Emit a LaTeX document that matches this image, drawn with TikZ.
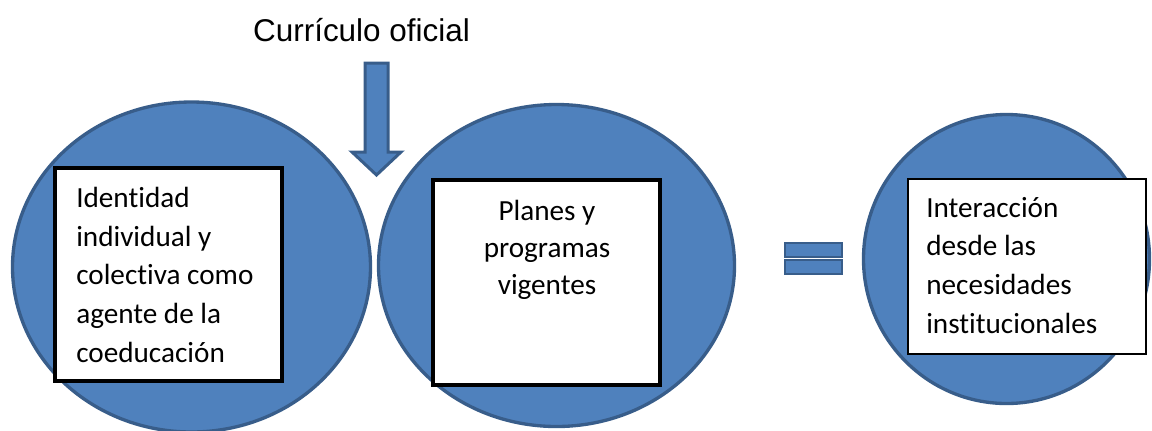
\documentclass[tikz,border=0pt]{standalone}
\usepackage{fontspec}
\setmainfont[Ligatures={NoCommon}]{Carlito}
\newfontfamily\arialfont{Liberation Sans}
\usetikzlibrary{shapes.geometric,fit}
\definecolor{blobfill}{HTML}{4F81BD}
\definecolor{blobline}{HTML}{385D8A}
\begin{document}
\begin{tikzpicture}[x=0.75pt,y=-0.75pt,
  blob/.style={ellipse, draw=blobline, fill=blobfill, line width=2.5pt, inner sep=0pt},
  thickbox/.style={rectangle, draw=black, fill=white, line width=3pt, inner sep=0pt},
  thinbox/.style={rectangle, draw=black, fill=white, line width=1.5pt, inner sep=0pt},
  boxtext/.style={inner sep=0pt, font=\fontsize{21.9}{29}\selectfont},
  blockshape/.style={draw=blobline, fill=blobfill, line width=2.25pt, line join=miter},
  eqbar/.style={draw=blobline, fill=blobfill, line width=1.5pt}]
\useasboundingbox (0,0) rectangle (1152,430);
% circles
\node[blob, minimum width=268.5pt, minimum height=247.5pt] (c1) at (191.5,267) {};
\node[blob, minimum width=267pt, minimum height=241.5pt] (c2) at (556.5,265.5) {};
\node[blob, minimum width=214.5pt, minimum height=216.75pt] (c3) at (1006.5,259) {};
% boxes
\coordinate (b1a) at (55,168); \coordinate (b1b) at (282,381);
\node[thickbox, fit=(b1a)(b1b)] (box1) {};
\coordinate (b2a) at (433,180); \coordinate (b2b) at (660,384.5);
\node[thickbox, fit=(b2a)(b2b)] (box2) {};
\coordinate (b3a) at (908,179); \coordinate (b3b) at (1146,354);
\node[thinbox, fit=(b3a)(b3b)] (box3) {};
% texts
\node[boxtext, anchor=base west] (t1) at (76,207.5) {\parbox[t]{170pt}{\raggedright Identidad\\individual y\\colectiva como\\agente de la\\coeducación}};
\node[boxtext, anchor=base] (t2) at (547,220) {\parbox[t]{160pt}{\centering\baselineskip=28pt Planes y\\programas\\vigentes}};
\node[boxtext, anchor=base west] (t3) at (926,217) {\parbox[t]{170pt}{\raggedright Interacción\\desde las\\necesidades\\institucionales}};
% title
\node[inner sep=0pt, anchor=base, font=\arialfont\fontsize{23.6}{28}\selectfont] (title) at (361.5,41) {Currículo oficial};
% block arrow
\draw[blockshape] (365,63) -- (388,63) -- (388,152) -- (401,152) -- (376.5,175) -- (352,152) -- (365,152) -- cycle;
% equals sign
\draw[eqbar] (785,243) rectangle (842,257);
\draw[eqbar] (785,260) rectangle (842,274);
\end{tikzpicture}
\end{document}
